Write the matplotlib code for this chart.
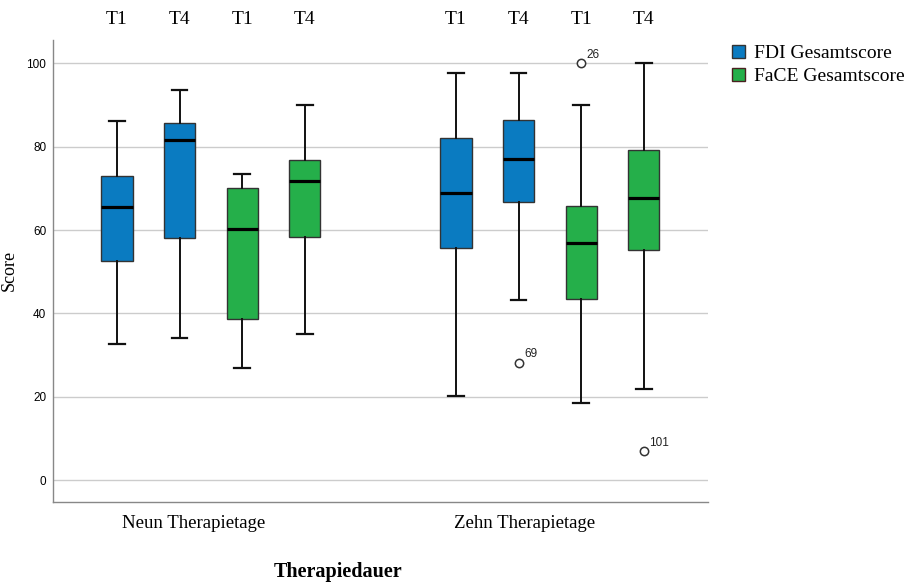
import matplotlib
matplotlib.use("Agg")
import matplotlib.pyplot as plt
from matplotlib.patches import Patch
from matplotlib.transforms import blended_transform_factory

# ---- data ----
groups = ["Neun Therapietage", "Zehn Therapietage"]
series = ["FDI Gesamtscore", "FaCE Gesamtscore"]
times = ["T1", "T4", "T1", "T4", "T1", "T4", "T1", "T4"]
box_series = [0, 0, 1, 1, 0, 0, 1, 1]
whislo = [32.6, 34.2, 26.8, 35.0, 20.2, 43.2, 18.6, 21.8]
q1 = [52.6, 58.1, 38.6, 58.4, 55.6, 66.8, 43.5, 55.1]
med = [65.6, 81.6, 60.2, 71.8, 68.8, 77.1, 56.8, 67.6]
q3 = [73.0, 85.7, 70.2, 76.8, 82.2, 86.3, 65.8, 79.3]
whishi = [86.2, 93.6, 73.4, 90.0, 97.6, 97.6, 90.0, 100.0]
fliers = [[], [], [], [], [], [28.2], [100.0], [6.9]]
flier_ids = [[], [], [], [], [], ["69"], ["26"], ["101"]]
yticks = [0, 20, 40, 60, 80, 100]

colors = ["#0A7BC1", "#25AF4A"]
serif = ["Liberation Serif", "DejaVu Serif"]
sans = ["Liberation Sans", "DejaVu Sans"]

fig = plt.figure(figsize=(9.08, 5.84), dpi=100)
ax = fig.add_axes([53.3 / 908, 1 - 501.7 / 584, (708 - 53.3) / 908, (501.7 - 40) / 584])

positions = [1, 2, 3, 4, 6.415, 7.415, 8.415, 9.415]
stats = []
for i in range(len(med)):
    stats.append(dict(whislo=whislo[i], q1=q1[i], med=med[i], q3=q3[i],
                      whishi=whishi[i], fliers=fliers[i]))

bp = ax.bxp(stats, positions=positions, widths=0.5, patch_artist=True,
            showfliers=True,
            boxprops=dict(edgecolor="#333333", linewidth=1.0),
            medianprops=dict(color="black", linewidth=2.3),
            whiskerprops=dict(color="#111111", linewidth=1.4),
            capprops=dict(color="#111111", linewidth=1.6),
            flierprops=dict(marker="o", markersize=6, markerfacecolor="white",
                            markeredgecolor="#333333", markeredgewidth=1.1))
for patch, s in zip(bp["boxes"], box_series):
    patch.set_facecolor(colors[s])

for pos, fl, ids in zip(positions, fliers, flier_ids):
    for v, lab in zip(fl, ids):
        ax.annotate(lab, (pos, v), xytext=(4, 4), textcoords="offset points",
                    fontsize=8.5, family=sans, color="#222222")

ax.set_xlim(-0.018, 10.44)
ax.set_ylim(-5.2, 105.6)
ax.set_yticks(yticks)
ax.set_yticklabels([str(t) for t in yticks], family=sans, fontsize=8.5)
ax.set_xticks([])
ax.tick_params(axis="y", length=0, pad=5)
ax.grid(axis="y", color="#cccccc", linewidth=1.0)
ax.set_axisbelow(True)
for sp in ["top", "right"]:
    ax.spines[sp].set_visible(False)
for sp in ["left", "bottom"]:
    ax.spines[sp].set_color("#888888")
    ax.spines[sp].set_linewidth(1.0)

ax.set_ylabel("Score", family=serif, fontsize=13)
ax.yaxis.set_label_coords((18 - 53.3) / 654.7, 0.5)

tr = blended_transform_factory(ax.transData, fig.transFigure)
for pos, t in zip(positions, times):
    ax.text(pos, 1 - 20 / 584, t, transform=tr, ha="center", va="center",
            family=serif, fontsize=14)

fig.text(194 / 908, 1 - 523 / 584, groups[0], ha="center", va="center",
         family=serif, fontsize=13.5)
fig.text(525 / 908, 1 - 523 / 584, groups[1], ha="center", va="center",
         family=serif, fontsize=13.5)
fig.text(338 / 908, 1 - 572 / 584, "Therapiedauer", ha="center", va="center",
         family=serif, fontsize=14.5, fontweight="bold")

handles = [Patch(facecolor=colors[0], edgecolor="#333333", label=series[0]),
           Patch(facecolor=colors[1], edgecolor="#4a2020", label=series[1])]
fig.legend(handles=handles, loc="upper left", bbox_to_anchor=(718 / 908, 1 - 31 / 584),
           frameon=False, prop=dict(family=serif, size=14), handlelength=0.68,
           handleheight=0.68, handletextpad=0.45, labelspacing=0.28, borderpad=0.2)

fig.savefig("out.png", dpi=100)
